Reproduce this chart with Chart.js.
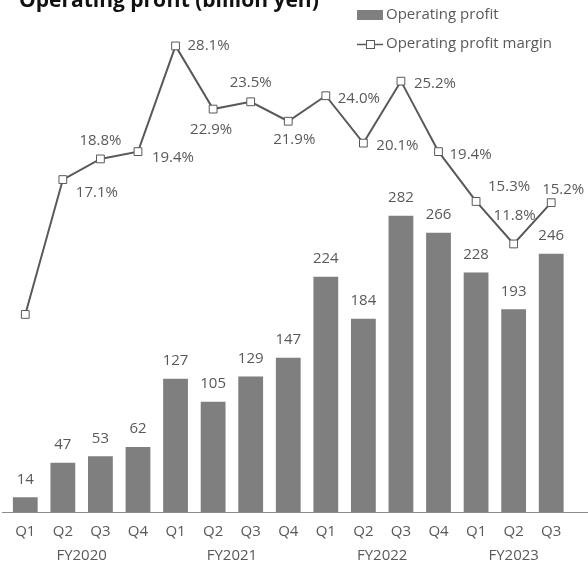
<!DOCTYPE html>
<html>
<head>
<meta charset="utf-8">
<script src="https://cdn.jsdelivr.net/npm/chart.js@4"></script>
<style>
  html, body { margin: 0; padding: 0; background: #fff; }
  #wrap { width: 588px; height: 566px; position: relative; }
</style>
</head>
<body>
<div id="wrap"><canvas id="c"></canvas></div>
<script>
// ---- data ----
const quarters = ['Q1','Q2','Q3','Q4','Q1','Q2','Q3','Q4','Q1','Q2','Q3','Q4','Q1','Q2','Q3'];
const fiscalYears = ['FY2020','FY2020','FY2020','FY2020','FY2021','FY2021','FY2021','FY2021',
                     'FY2022','FY2022','FY2022','FY2022','FY2023','FY2023','FY2023'];
const operatingProfit = [14, 47, 53, 62, 127, 105, 129, 147, 224, 184, 282, 266, 228, 193, 246];
const operatingMargin = [6.0, 17.1, 18.8, 19.4, 28.1, 22.9, 23.5, 21.9, 24.0, 20.1, 25.2, 19.4, 15.3, 11.8, 15.2];
const titleText = 'Operating profit (billion yen)';

// ---- styling ----
const FONT = '"Open Sans", "Noto Sans", sans-serif';
const TEXT = '#595959';
const BAR = '#7f7f7f';
const LINE = '#595959';
// label offsets for the margin labels (dx, dy from point), null = not shown
const marginLabelOffsets = [null,[34,13],[0,-18],[35,6],[33,0],[-2,21],[0,-19],[6,18],
  [33,3],[34,3],[34,3],[32,3],[33,-15],[1,-28],[12,-13]];

const labels = quarters.map((q, i) => q);

const overlay = {
  id: 'overlay',
  afterDatasetsDraw(chart) {
    const ctx = chart.ctx;
    const x = chart.scales.x;
    const area = chart.chartArea;
    ctx.save();
    // x axis line
    ctx.strokeStyle = '#8c8c8c';
    ctx.lineWidth = 1;
    ctx.beginPath();
    ctx.moveTo(2, Math.round(area.bottom) + 0.5);
    ctx.lineTo(588, Math.round(area.bottom) + 0.5);
    ctx.stroke();

    ctx.font = '15px ' + FONT;
    ctx.fillStyle = TEXT;
    ctx.textAlign = 'center';
    ctx.textBaseline = 'middle';
    // bar labels
    const barMeta = chart.getDatasetMeta(0);
    barMeta.data.forEach((el, i) => {
      ctx.fillText(String(operatingProfit[i]), el.x, el.y - 18);
    });
    // line labels
    const lineMeta = chart.getDatasetMeta(1);
    lineMeta.data.forEach((el, i) => {
      const off = marginLabelOffsets[i];
      if (!off) return;
      ctx.fillText(operatingMargin[i].toFixed(1) + '%', el.x + off[0], el.y + off[1]);
    });
    // fiscal year group labels
    const groups = [];
    fiscalYears.forEach((fy, i) => {
      const g = groups[groups.length - 1];
      if (g && g.label === fy) g.to = i; else groups.push({label: fy, from: i, to: i});
    });
    groups.forEach(g => {
      const cx = (x.getPixelForValue(g.from) + x.getPixelForValue(g.to)) / 2;
      ctx.fillText(g.label, cx, 556);
    });

    // title (partly cut off at top)
    ctx.font = 'bold 21px ' + FONT;
    ctx.fillStyle = '#111';
    ctx.textAlign = 'left';
    ctx.textBaseline = 'alphabetic';
    ctx.fillText(titleText, 19, 7);

    // legend
    ctx.font = '15px ' + FONT;
    ctx.fillStyle = BAR;
    ctx.fillRect(357, 10, 26, 10);
    ctx.fillStyle = TEXT;
    ctx.textBaseline = 'middle';
    ctx.fillText(chart.data.datasets[0].label, 386, 15);
    ctx.strokeStyle = LINE;
    ctx.lineWidth = 1.5;
    ctx.beginPath();
    ctx.moveTo(357, 44.5); ctx.lineTo(383, 44.5);
    ctx.stroke();
    ctx.fillStyle = '#fff';
    ctx.lineWidth = 1;
    ctx.fillRect(366.5, 40.5, 8, 8);
    ctx.strokeRect(366.5, 40.5, 8, 8);
    ctx.fillStyle = TEXT;
    ctx.fillText(chart.data.datasets[1].label, 386, 44);
    ctx.restore();
  }
};

new Chart(document.getElementById('c'), {
  data: {
    labels: labels,
    datasets: [
      {
        type: 'bar',
        label: 'Operating profit',
        data: operatingProfit,
        backgroundColor: BAR,
        borderWidth: 0,
        barPercentage: 0.66,
        categoryPercentage: 1.0,
        yAxisID: 'y',
        order: 2
      },
      {
        type: 'line',
        label: 'Operating profit margin',
        data: operatingMargin,
        borderColor: LINE,
        borderWidth: 2,
        pointStyle: 'rect',
        pointRadius: 5.5,
        pointBorderWidth: 1,
        pointBackgroundColor: '#fff',
        pointBorderColor: LINE,
        tension: 0,
        yAxisID: 'y1',
        order: 1
      }
    ]
  },
  options: {
    responsive: true,
    maintainAspectRatio: false,
    animation: false,
    devicePixelRatio: 1,
    layout: { padding: { top: 30, left: 2, right: 18, bottom: 14 } },
    plugins: { legend: { display: false }, tooltip: { enabled: false }, title: { display: false } },
    scales: {
      x: {
        offset: true,
        grid: { display: false, drawTicks: false },
        border: { display: false },
        ticks: { color: TEXT, font: { family: FONT, size: 15 }, padding: 11, maxRotation: 0, autoSkip: false }
      },
      y: { display: false, min: 0, max: 459 },
      y1: { display: false, min: -10.26, max: 29.41 }
    }
  },
  plugins: [overlay]
});
</script>
</body>
</html>
